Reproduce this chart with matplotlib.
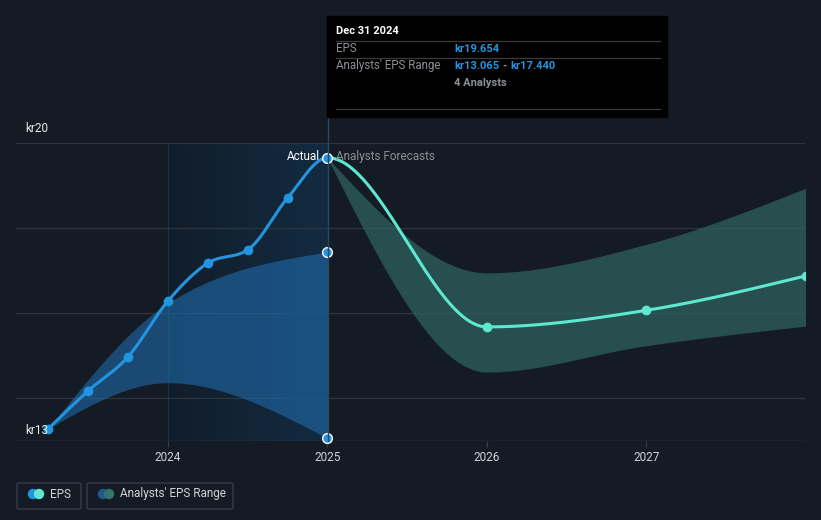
import numpy as np
import matplotlib
matplotlib.use("Agg")
from matplotlib import pyplot as plt
from matplotlib.patches import FancyBboxPatch, Rectangle, Circle
from matplotlib.colors import LinearSegmentedColormap

plt.rcParams['font.family'] = ['Roboto', 'DejaVu Sans']

# actual EPS (quarterly)
past_x = [2023.25, 2023.5, 2023.75, 2024.0, 2024.25, 2024.5, 2024.75, 2025.0]
past_eps = [13.29, 14.18, 14.98, 16.29, 17.18, 17.49, 18.71, 19.654]

# past analysts' range
range_x = [2023.25, 2024.0, 2025.0]
range_hi = [13.29, 16.24, 17.44]
range_lo = [13.29, 14.37, 13.065]

# analyst forecasts
fc_x = [2025.0, 2026.0, 2027.0, 2028.0]
fc_eps = [19.654, 15.68, 16.07, 16.88]
fc_hi = [19.654, 16.95, 17.62, 18.94]
fc_lo = [19.654, 14.62, 15.24, 15.70]

year_ticks = [2024, 2025, 2026, 2027]

bg = '#151b24'
blue = '#2394df'
teal = '#5de8cf'


def monotone(x, y, n=400):
    # Fritsch-Carlson monotone cubic, like d3 curveMonotoneX
    x = np.asarray(x, float)
    y = np.asarray(y, float)
    h = np.diff(x)
    d = np.diff(y) / h
    m = np.zeros_like(y)
    for i in range(1, len(y) - 1):
        if d[i - 1] * d[i] <= 0:
            m[i] = 0
        else:
            p = (d[i - 1] * h[i] + d[i] * h[i - 1]) / (h[i - 1] + h[i])
            m[i] = (np.sign(d[i - 1]) + np.sign(d[i])) * min(abs(d[i - 1]), abs(d[i]), 0.5 * abs(p))
    if len(y) > 2:
        t0 = (3 * d[0] - m[1]) / 2
        m[0] = t0 if d[0] * t0 > 0 else 0
        t1 = (3 * d[-1] - m[-2]) / 2
        m[-1] = t1 if d[-1] * t1 > 0 else 0
    else:
        m[:] = d[0]
    xs = np.linspace(x[0], x[-1], n)
    idx = np.clip(np.searchsorted(x, xs) - 1, 0, len(h) - 1)
    t = (xs - x[idx]) / h[idx]
    h00 = 2 * t**3 - 3 * t**2 + 1
    h10 = t**3 - 2 * t**2 + t
    h01 = -2 * t**3 + 3 * t**2
    h11 = t**3 - t**2
    ys = h00 * y[idx] + h10 * h[idx] * m[idx] + h01 * y[idx + 1] + h11 * h[idx] * m[idx + 1]
    return xs, ys


fig = plt.figure(figsize=(8.21, 5.2), dpi=100, facecolor=bg)
W, H = 821, 520
ax = fig.add_axes([16 / W, (H - 441) / H, (805 - 16) / W, (441 - 143) / H])
ax.set_facecolor(bg)
ax.set_xlim(2023.047, 2027.994)
ax.set_ylim(13, 20)

# highlighted past year
grad = np.linspace(0, 1, 256).reshape(1, -1)
cmap = LinearSegmentedColormap.from_list('g', ['#111d2a', '#132b41'])
ax.imshow(grad, extent=[2024, 2025, 13, 20], aspect='auto', cmap=cmap, zorder=0)
ax.axvline(2024, color='#19324a', lw=0.8, zorder=1)

for yv in [14, 16, 18, 20]:
    ax.axhline(yv, color='#2e343d', lw=0.9, zorder=1)

# past range band
bx, bhi = monotone(range_x, range_hi)
_, blo = monotone(range_x, range_lo)
ax.fill_between(bx, blo, bhi, color='#1f6bab', alpha=0.6, lw=0, zorder=2)

# forecast band
fx, fhi = monotone(fc_x, fc_hi)
_, flo = monotone(fc_x, fc_lo)
ax.fill_between(fx, flo, fhi, color='#2f6462', alpha=0.72, lw=0, zorder=2)

# EPS line: one continuous series, past in blue, forecast in teal
all_x = past_x + fc_x[1:]
all_y = past_eps + fc_eps[1:]
lx, ly = monotone(all_x, all_y, n=2000)
past_mask = lx <= 2025.0
ax.plot(lx[past_mask], ly[past_mask], color=blue, lw=2.2, zorder=4)
ax.plot(lx[lx >= 2025.0], ly[lx >= 2025.0], color=teal, lw=2.2, zorder=4)
ax.plot(past_x[:-1], past_eps[:-1], 'o', color=blue, ms=6, zorder=5)
ax.plot(fc_x[1:], fc_eps[1:], 'o', color=teal, ms=6, zorder=5)

ax.plot([2025, 2025, 2025], [past_eps[-1], range_hi[-1], range_lo[-1]], 'o',
        color=blue, mec='white', mew=1.0, ms=7, zorder=6, clip_on=False)

ax.text(2024.955, past_eps[-1] + 0.02, 'Actual', color='white', fontsize=8.5,
        ha='right', va='center', zorder=7)
ax.text(2025.055, past_eps[-1] + 0.02, 'Analysts Forecasts', color='#8a8f96',
        fontsize=8.5, ha='left', va='center', zorder=7)

for s in ax.spines.values():
    s.set_visible(False)
ax.axhline(13, color='#3a4049', lw=1.0, zorder=1)
ax.set_xticks(year_ticks)
ax.set_xticklabels([str(y) for y in year_ticks])
ax.tick_params(axis='x', colors='#3a4049', labelcolor='#d0d3d8', labelsize=8.5,
               length=4, pad=3)
ax.set_yticks([])

# overlay for labels, tooltip, legend (pixel coords)
ov = fig.add_axes([0, 0, 1, 1], facecolor='none')
ov.set_xlim(0, W)
ov.set_ylim(H, 0)
ov.axis('off')

ov.text(25, 129, 'kr20', color='#e8eaed', fontsize=8.5, va='center')
ov.text(25, 430, 'kr13', color='#e8eaed', fontsize=8.5, va='center')
ov.plot([328, 328], [117, 441], color='#2a4660', lw=1.0, zorder=1)

# tooltip
fs = 8.0
ov.add_patch(Rectangle((327, 16), 340, 101, color='black', zorder=8))
ov.text(336, 31, 'Dec 31 2024', color='white', fontsize=fs, fontweight='bold',
        va='center', zorder=9)
for yl in [41, 58, 109]:
    ov.plot([336, 660], [yl, yl], color='#3a3a3a', lw=0.9, zorder=9)
ov.text(336, 49, 'EPS', color='#8c9096', fontsize=8.3, va='center', zorder=9)
ov.text(454, 49, 'kr19.654', color=blue, fontsize=fs, fontweight='bold',
        va='center', zorder=9)
ov.text(336, 66, "Analysts' EPS Range", color='#8c9096', fontsize=8.3,
        va='center', zorder=9)
t_lo = ov.text(454, 66, 'kr13.065', color=blue, fontsize=fs, fontweight='bold',
               va='center', zorder=9)
t_dash = ov.annotate('-', xy=(1, 0.5), xycoords=t_lo, xytext=(2.5, 0),
                     textcoords='offset points', color='#8c9096', fontsize=fs,
                     fontweight='bold', va='center', ha='left', zorder=9)
ov.annotate('kr17.440', xy=(1, 0.5), xycoords=t_dash, xytext=(2.5, 0),
            textcoords='offset points', color=blue, fontsize=fs,
            fontweight='bold', va='center', ha='left', zorder=9)
ov.text(454, 83, '4 Analysts', color='#8c9096', fontsize=fs, fontweight='bold',
        va='center', zorder=9)

# legend
ov.add_patch(FancyBboxPatch((17, 483), 64, 26, boxstyle='round,pad=0,rounding_size=2',
                            fc='none', ec='#3a4049', lw=0.9))
ov.add_patch(FancyBboxPatch((87, 483), 146, 26, boxstyle='round,pad=0,rounding_size=2',
                            fc='none', ec='#3a4049', lw=0.9))
ov.add_patch(Circle((33, 494), 4.5, color=blue, zorder=3))
ov.add_patch(Circle((39, 494), 4.5, color=teal, zorder=4))
ov.add_patch(Circle((103, 494), 4.5, color='#1f5a8a', zorder=3))
ov.add_patch(Circle((109, 494), 4.5, color='#34736e', zorder=4))
ov.text(50, 494, 'EPS', color='#d0d3d8', fontsize=8.5, va='center')
ov.text(120, 494, "Analysts' EPS Range", color='#d0d3d8', fontsize=8.5, va='center')

fig.savefig('out.png', dpi=100, facecolor=bg)
